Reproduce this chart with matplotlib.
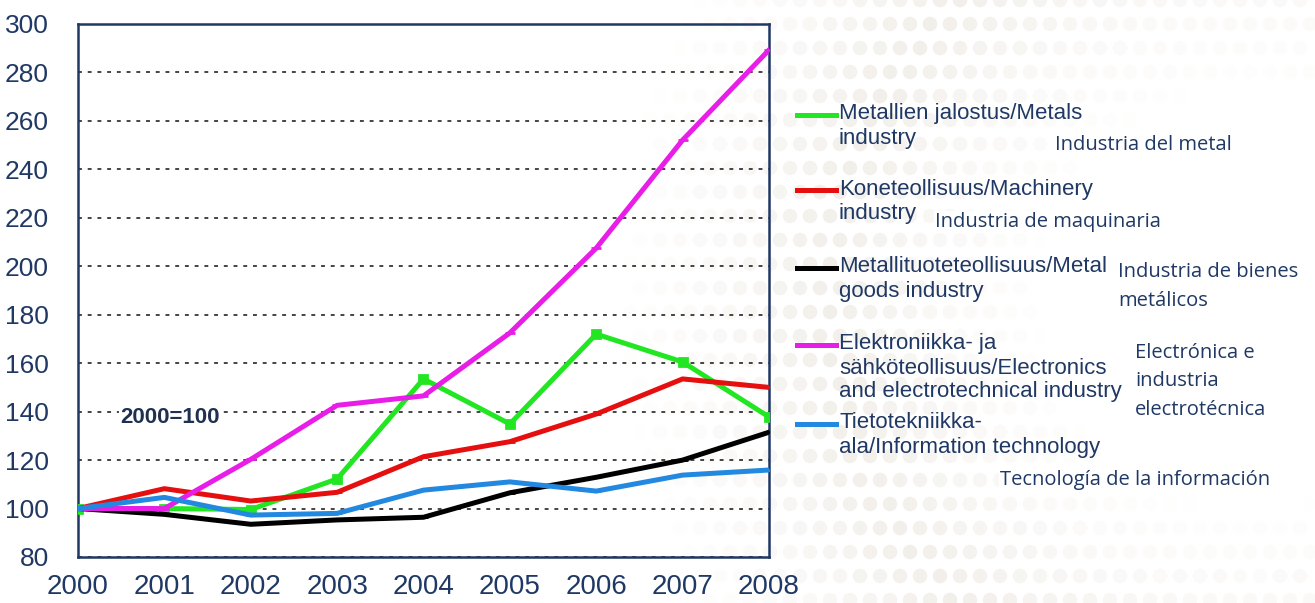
import matplotlib
matplotlib.use("Agg")
import numpy as np
from matplotlib import pyplot as plt
from matplotlib.lines import Line2D

# values (index, 2000 = 100)
years = [2000, 2001, 2002, 2003, 2004, 2005, 2006, 2007, 2008]
metals = [100, 100, 99.6, 112.2, 153.5, 134.9, 172.0, 160.5, 137.8]
machinery = [100, 108.2, 103.1, 106.7, 121.4, 127.6, 139.0, 153.5, 150.0]
metal_goods = [100, 97.6, 93.5, 95.3, 96.4, 106.5, 112.9, 120.0, 131.5]
electronics = [100, 100, 120.3, 142.6, 146.5, 172.5, 207.5, 252.1, 289.3]
info_tech = [100, 104.6, 97.3, 98.0, 107.6, 111.0, 107.2, 113.8, 115.9]

legend_labels = [
    "Metallien jalostus/Metals\nindustry",
    "Koneteollisuus/Machinery\nindustry",
    "Metallituoteteollisuus/Metal\ngoods industry",
    "Elektroniikka- ja\nsähköteollisuus/Electronics\nand electrotechnical industry",
    "Tietotekniikka-\nala/Information technology",
]
spanish_labels = [
    "Industria del metal",
    "Industria de maquinaria",
    "Industria de bienes\nmetálicos",
    "Electrónica e\nindustria\nelectrotécnica",
    "Tecnología de la información",
]
yticks = list(range(80, 301, 20))

NAVY = "#1f3864"
W, H = 1315, 603
series = [metals, machinery, metal_goods, electronics, info_tech]
colors = ["#22e622", "#e60f0f", "#000000", "#e81ee8", "#2288e0"]
markers = ["s", "_", "_", "_", "_"]


def px(x, y):
    return x / W, 1 - y / H


def background_dots(fig):
    # faint dotted swirl behind the right part of the slide
    bg = fig.add_axes([0, 0, 1, 1], zorder=-1)
    bg.set_xlim(0, W)
    bg.set_ylim(H, 0)
    bg.axis("off")
    xs, ys = np.meshgrid(np.arange(520, 1310, 20), np.arange(0, 610, 24))
    xs = xs + (ys // 24 % 2) * 10
    r = np.hypot(xs - 1250, ys - 300)
    a = np.clip(1 - np.abs(r - 420) / 240, 0, 1) ** 1.5
    keep = a > 0.05
    bg.scatter(xs[keep], ys[keep], s=110, marker="o", c="#e6e0d6",
               alpha=a[keep] * 0.5, lw=0)


def stacked_text(fig, x, y, label, step, **kw):
    # one text per line so each line keeps its own box
    for i, line in enumerate(label.split("\n")):
        tx, ty = px(x, y + i * step)
        fig.text(tx, ty, line, va="center", **kw)


def main():
    fig = plt.figure(figsize=(W / 100, H / 100), dpi=100)
    background_dots(fig)
    ax = fig.add_axes([0.0593, 0.0763, 0.5255, 0.8839])
    ax.patch.set_alpha(0)

    for vals, c, m in zip(series, colors, markers):
        ax.plot(years, vals, color=c, lw=3.6, marker=m, ms=6 if m == "s" else 7,
                mew=2, zorder=3)

    ax.set_xlim(2000, 2008)
    ax.set_ylim(80, 300)
    ax.set_yticks(yticks)
    ax.set_xticks(years)
    ax.tick_params(length=0, colors=NAVY)
    ax.tick_params(axis="y", labelsize=19, pad=21)
    ax.tick_params(axis="x", labelsize=20, pad=12)
    for lab in ax.get_xticklabels() + ax.get_yticklabels():
        lab.set_fontfamily("Liberation Sans")
    ax.grid(axis="y", linestyle=(0, (2, 3)), color="#444444", lw=1.4)
    for s in ax.spines.values():
        s.set_color(NAVY)
        s.set_linewidth(1.8)

    ax.text(2000.485, 137.4, "2000=100", fontsize=16, fontweight="bold", color="#1f3050",
            family="Liberation Sans", va="center",
            bbox=dict(fc="white", ec="none", pad=1))

    # legend drawn by hand, to the right of the axes
    leg_y = [115, 190, 268, 345, 424]
    for lab, c, y in zip(legend_labels, colors, leg_y):
        x0, fy = px(797, y)
        x1, _ = px(836, y)
        fig.add_artist(Line2D([x0, x1], [fy, fy], color=c, lw=3.6,
                              transform=fig.transFigure))
        stacked_text(fig, 839, y - 1, lab, 24, color=NAVY, fontsize=16,
                     family="Liberation Sans")

    sp_pos = [(1055, 145), (935, 222), (1118, 272), (1135, 353), (1000, 480)]
    for lab, (x, y) in zip(spanish_labels, sp_pos):
        stacked_text(fig, x, y, lab, 28.5, color=NAVY, fontsize=14.5,
                     family="Open Sans", bbox=dict(fc="white", ec="none", pad=0.5))

    fig.savefig("out.png", dpi=100)


if __name__ == '__main__':
    main()
